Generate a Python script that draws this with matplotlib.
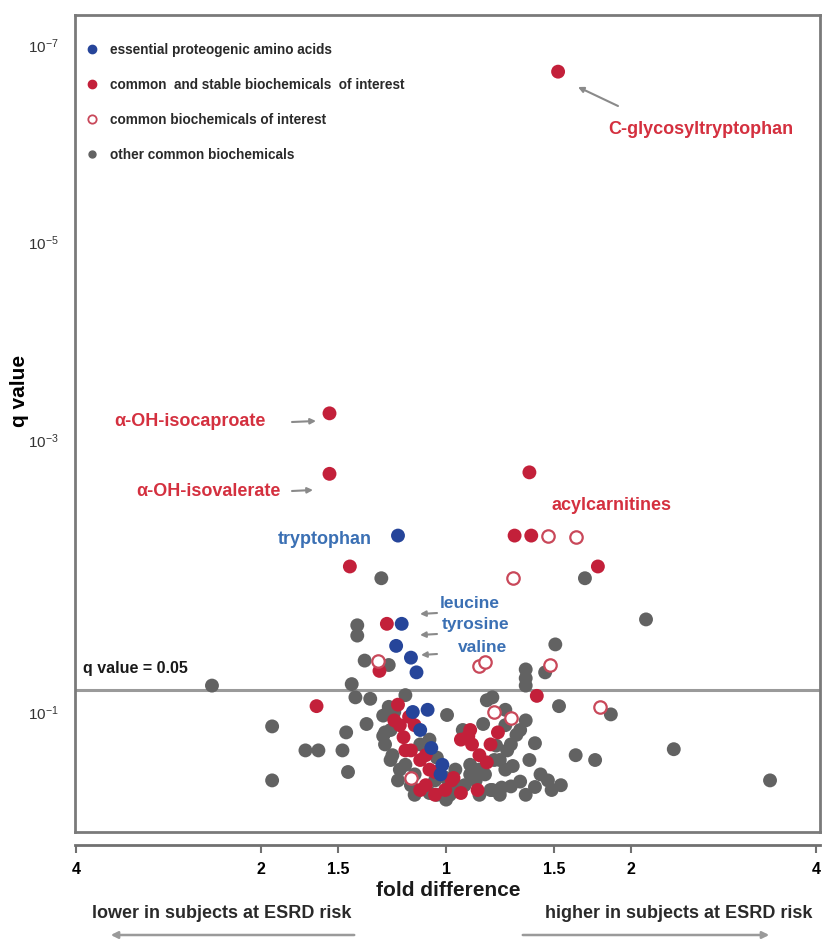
import numpy as np
import matplotlib
matplotlib.use("Agg")
import matplotlib.pyplot as plt
from matplotlib.lines import Line2D

# ---------------- data (x = log2 fold difference, y = -log10 q value) ----------------
blue_x = [-0.26, -0.24, -0.27, -0.19, -0.16, -0.18, -0.10, -0.14, -0.02, -0.03, -0.08]
blue_y = [2.35, 1.75, 1.60, 1.52, 1.42, 1.00, 1.03, 0.85, 0.56, 0.48, 0.70]

red_x = [0.605, -0.63, -0.63, -0.52, 0.45, 0.37, 0.46, 0.82, -0.32, -0.36, -0.70, 0.49,
         -0.28, -0.23, -0.19, -0.14, -0.11, 0.08, 0.14, 0.18, 0.22, 0.28, -0.11, -0.005,
         0.08, -0.14, -0.25, -0.20, 0.12, 0.04, -0.06,
         -0.26, -0.17, -0.22, -0.09, 0.13, 0.24, 0.17, -0.06, 0.03]
red_y = [6.73, 3.27, 2.77, 2.14, 2.78, 2.35, 2.35, 2.14, 1.75, 1.43, 1.08, 1.22,
         0.93, 0.79, 0.68, 0.60, 0.64, 0.77, 0.73, 0.64, 0.58, 0.83, 0.39, 0.35,
         0.325, 0.35, 0.89, 0.96, 0.80, 0.45, 0.50,
         1.10, 0.89, 0.68, 0.52, 0.85, 0.73, 0.35, 0.31, 0.43]

open_x = [0.55, 0.70, 0.36, -0.37, 0.18, 0.21, 0.56, 0.83, 0.26, -0.19, 0.35]
open_y = [2.35, 2.34, 2.06, 1.50, 1.46, 1.49, 1.47, 1.07, 1.00, 0.45, 0.95]

gray_x = [-0.35, 0.75, 1.08, 0.59, -0.48, -0.48, -0.44, -0.31, 0.43, 0.43, 0.535,
          -1.265, -0.51, -0.49, -0.41, -0.22, 0.43, 0.61, 0.22, 0.25, 0.32, 0.005,
          0.89, -0.94, -0.43, -0.54, -0.76, -0.69, -0.56, -0.53, -0.94, 0.38, 0.48,
          0.33, 0.43, 0.70, 0.805, 1.23, 1.75, 0.48, 0.55, 0.57, 0.25, 0.30, 0.35,
          0.40, 0.09, -0.09, -0.30, -0.33, -0.30, -0.31, -0.28, -0.25, -0.19, -0.09,
          0.10, 0.16, 0.18, 0.24, 0.05, 0.13, 0.29, 0.32, 0.02, -0.17, 0.18, -0.34,
          0.20, 0.27, 0.36, -0.05, 0.00,
          -0.34, -0.33, -0.29, -0.26, -0.22, -0.17, -0.14, -0.06, 0.05, 0.13, 0.21,
          0.26, 0.35, 0.40, 0.32, 0.45, 0.51, 0.62, 0.43, 0.00, -0.05, 0.29]
gray_y = [2.06, 2.06, 1.78, 1.61, 1.74, 1.67, 1.50, 1.47, 1.44, 1.38, 1.42,
          1.33, 1.34, 1.20, 1.18, 1.23, 1.33, 1.08, 1.16, 1.20, 1.03, 0.975,
          0.98, 0.88, 0.90, 0.83, 0.68, 0.68, 0.68, 0.50, 0.43, 0.81, 0.74,
          0.68, 0.93, 0.64, 0.60, 0.69, 0.43, 0.375, 0.43, 0.35, 0.35, 0.37, 0.38,
          0.42, 0.85, 0.77, 0.85, 0.73, 0.60, 1.07, 1.00, 0.52, 0.39, 0.325,
          0.39, 0.43, 0.52, 0.35, 0.52, 0.56, 0.60, 0.52, 0.31, 0.31, 0.31, 0.80,
          0.90, 0.72, 0.55, 0.62, 0.45,
          0.97, 0.83, 0.64, 0.43, 0.56, 0.48, 0.73, 0.43, 0.39, 0.48, 0.48,
          0.60, 0.73, 0.85, 0.89, 0.60, 0.48, 0.39, 0.31, 0.27, 0.31, 0.31]

q_threshold = 0.05

xtick_vals = [-2.0, -1.0, -np.log2(1.5), 0.0, np.log2(1.5), 1.0, 2.0]
xtick_labels = ["4", "2", "1.5", "1", "1.5", "2", "4"]
ytick_vals = [7, 5, 3, 1]
ytick_labels = [r"$10^{-7}$", r"$10^{-5}$", r"$10^{-3}$", r"$10^{-1}$"]

legend_labels = ["essential proteogenic amino acids",
                 "common  and stable biochemicals  of interest",
                 "common biochemicals of interest",
                 "other common biochemicals"]

# ---------------- style ----------------
BLUE = "#26459a"
RED = "#c3203a"
OPEN_RED = "#c9485a"
GRAY = "#626262"
RED_TXT = "#d4303f"
BLUE_TXT = "#3b70b4"
NARROW = ["Liberation Sans Narrow", "Liberation Sans", "DejaVu Sans"]

plt.rcParams["mathtext.fontset"] = "custom"
plt.rcParams["mathtext.rm"] = "Liberation Sans"
plt.rcParams["mathtext.it"] = "Liberation Sans"

W, H = 826, 943
fig = plt.figure(figsize=(W / 100, H / 100), dpi=100)
L, R, T, B = 75, 820, 15, 832
ax = fig.add_axes([L / W, 1 - B / H, (R - L) / W, (B - T) / H])

# piecewise y scale on -log10(q)
Lk = np.array([-10.0, 0.0, 1.0, 1.3, 3.0, 7.0, 17.0])
Tk = np.array([-1200.0, 0.0, 120.0, 142.0, 392.0, 787.0, 1787.0])


def fwd(v):
    return np.interp(v, Lk, Tk)


def inv(v):
    return np.interp(v, Tk, Lk)


ax.set_yscale("function", functions=(fwd, inv))
ax.set_xlim(-2.005, 2.02)
ax.set_ylim(0, 7.3)

ms = 100
ax.scatter(gray_x, gray_y, s=ms, color=GRAY, edgecolors="none", zorder=3)
ax.scatter(red_x, red_y, s=ms, color=RED, edgecolors="none", zorder=4)
ax.scatter(open_x, open_y, s=ms * 0.8, facecolors="white", edgecolors=OPEN_RED,
           linewidths=1.6, zorder=5)
ax.scatter(blue_x, blue_y, s=ms, color=BLUE, edgecolors="none", zorder=6)

ax.axhline(-np.log10(q_threshold), color="#9a9a9a", lw=2.2, zorder=2)

for s in ax.spines.values():
    s.set_color("#7a7a7a")
    s.set_linewidth(2)

ax.set_xticks([])
ax.set_yticks(ytick_vals)
ax.set_yticklabels(ytick_labels)
ax.yaxis.set_minor_locator(matplotlib.ticker.NullLocator())
ax.tick_params(axis="y", length=0, pad=12, labelsize=11, labelcolor="#333333")
ax.set_ylabel("q value", fontsize=15, fontweight="bold", family=["Liberation Sans", "DejaVu Sans"])
ax.yaxis.set_label_coords(-0.062, 0.54)

# secondary x axis below box
sec = ax.secondary_xaxis(-0.016)
sec.set_xticks(xtick_vals)
sec.set_xticklabels(xtick_labels)
sec.tick_params(axis="x", length=6, width=1.5, color="#707070", pad=6, labelsize=11.5)
for lab in sec.get_xticklabels():
    lab.set_fontweight("bold")
    lab.set_family(NARROW)
sec.spines["bottom"].set_color("#707070")
sec.spines["bottom"].set_linewidth(2)

# legend
handles = [
    Line2D([], [], marker="o", ls="none", ms=6, color=BLUE),
    Line2D([], [], marker="o", ls="none", ms=6, color=RED),
    Line2D([], [], marker="o", ls="none", ms=6, mfc="white", mec=OPEN_RED, mew=1.3),
    Line2D([], [], marker="o", ls="none", ms=5, color=GRAY),
]
leg = ax.legend(handles, legend_labels, loc="upper left", bbox_to_anchor=(0.008, 0.973),
                frameon=False, handlelength=0.8, handletextpad=0.9, labelspacing=1.55,
                borderaxespad=0, prop={"family": NARROW, "weight": "bold", "size": 9.8})
for t in leg.get_texts():
    t.set_color("#2a2a2a")


def af(px, py):
    return ((px - L) / (R - L), (B - py) / (B - T))


def label(txt, px, py, color, size=13):
    ax.text(*af(px, py), txt, transform=ax.transAxes, ha="center", va="center",
            color=color, fontsize=size, fontweight="bold", family=NARROW, zorder=7)


def arrow(p0, p1):
    ax.annotate("", xy=af(*p1), xytext=af(*p0), xycoords="axes fraction",
                textcoords="axes fraction",
                arrowprops=dict(arrowstyle="-|>", color="#8a8a8a", lw=1.5,
                                mutation_scale=8, shrinkA=0, shrinkB=0), zorder=7)


label("C-glycosyltryptophan", 701, 129, RED_TXT)
arrow((618, 106), (578, 87))
label("α-OH-isocaproate", 190, 421, RED_TXT)
arrow((292, 422), (316, 421))
label("α-OH-isovalerate", 208, 492, RED_TXT)
arrow((292, 491), (313, 490))
label("tryptophan", 325, 540, BLUE_TXT)
label("acylcarnitines", 612, 506, RED_TXT)
label("leucine", 470, 603, BLUE_TXT, 12.5)
label("tyrosine", 476, 625, BLUE_TXT, 12.5)
label("valine", 483, 647, BLUE_TXT, 12.5)
arrow((437, 613), (420, 614))
arrow((437, 634), (420, 635))
arrow((437, 654), (421, 655))
ax.text(*af(83, 668), "q value = 0.05", transform=ax.transAxes, ha="left", va="center",
        color="#1a1a1a", fontsize=11.5, fontweight="bold", family=NARROW, zorder=7)

# bottom texts
fig.text(448 / W, 1 - 890 / H, "fold difference", ha="center", va="center",
         fontsize=15, fontweight="bold", family=NARROW, color="#1a1a1a")
fig.text(222 / W, 1 - 913 / H, "lower in subjects at ESRD risk", ha="center", va="center",
         fontsize=13, fontweight="bold", family=NARROW, color="#2a2a2a")
fig.text(679 / W, 1 - 913 / H, "higher in subjects at ESRD risk", ha="center", va="center",
         fontsize=13, fontweight="bold", family=NARROW, color="#2a2a2a")
for x0, x1 in [(357, 108), (520, 772)]:
    fig.add_artist(matplotlib.patches.FancyArrowPatch(
        (x0 / W, 1 - 935 / H), (x1 / W, 1 - 935 / H), transform=fig.transFigure,
        arrowstyle="-|>", mutation_scale=10, color="#9a9a9a", lw=1.8))

fig.savefig("out.png", dpi=100, facecolor="white")
